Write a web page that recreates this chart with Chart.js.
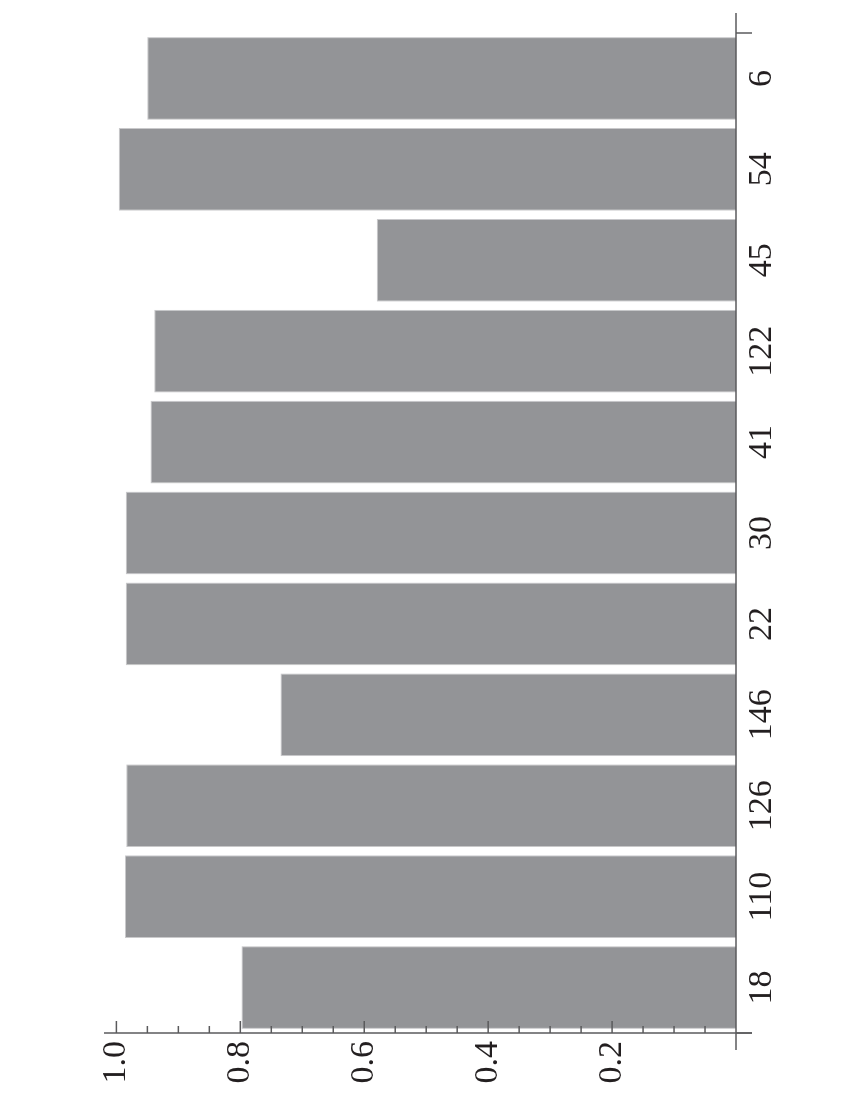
<!DOCTYPE html>
<html>
<head>
<meta charset="utf-8">
<script src="https://cdn.jsdelivr.net/npm/chart.js@4/dist/chart.umd.min.js"></script>
<style>
  html, body { margin: 0; padding: 0; background: #fff; overflow: hidden; }
  /* the chart is a plain column chart, turned a quarter turn to the left */
  #wrap {
    position: absolute; left: 0; top: 0;
    width: 1100px; height: 850px;
    transform-origin: 0 0;
    transform: translate(0, 1100px) rotate(-90deg);
  }
</style>
</head>
<body>
<div id="wrap"><canvas id="chart" width="1100" height="850"></canvas></div>
<script>
const categories = ['18', '110', '126', '146', '22', '30', '41', '122', '45', '54', '6'];
const values = [0.798, 0.986, 0.984, 0.735, 0.985, 0.985, 0.945, 0.939, 0.580, 0.996, 0.950];
const valueTicks = [0.2, 0.4, 0.6, 0.8, 1.0];
const minorStep = 0.05;

const ink = '#231f20';
const axisColor = '#5a5a5c';
const serif = '"Liberation Serif", "Times New Roman", serif';

// axis lines and inward tick marks, like the original
const axesPlugin = {
  id: 'axes',
  afterDraw(chart) {
    const ctx = chart.ctx;
    const y = chart.scales.y;
    const area = chart.chartArea;
    ctx.save();
    ctx.strokeStyle = axisColor;
    ctx.lineWidth = 1.5;

    // value axis
    ctx.beginPath();
    ctx.moveTo(area.left, y.getPixelForValue(y.max));
    ctx.lineTo(area.left, area.bottom + 16);
    ctx.stroke();
    for (let i = 1; i * minorStep <= 1.0001; i++) {
      const v = i * minorStep;
      const py = y.getPixelForValue(v);
      const major = valueTicks.some(t => Math.abs(t - v) < 1e-6);
      ctx.beginPath();
      ctx.moveTo(area.left, py);
      ctx.lineTo(area.left + (major ? 12 : 7), py);
      ctx.stroke();
    }

    // category axis
    ctx.beginPath();
    ctx.moveTo(area.left - 17, area.bottom);
    ctx.lineTo(area.right + 20, area.bottom);
    ctx.stroke();
    [area.left, area.right].forEach(px => {
      ctx.beginPath();
      ctx.moveTo(px, area.bottom);
      ctx.lineTo(px, area.bottom + 16);
      ctx.stroke();
    });
    ctx.restore();
  }
};

new Chart(document.getElementById('chart'), {
  type: 'bar',
  data: {
    labels: categories,
    datasets: [{
      data: values,
      backgroundColor: '#939497',
      borderColor: '#c9c9cb',
      borderWidth: 1,
      barPercentage: 0.91,
      categoryPercentage: 1.0
    }]
  },
  options: {
    responsive: false,
    animation: false,
    layout: { padding: { left: 0, top: 104, right: 33, bottom: 0 } },
    plugins: { legend: { display: false }, tooltip: { enabled: false } },
    scales: {
      x: {
        grid: { display: false },
        border: { display: false },
        ticks: {
          color: ink,
          padding: -2,
          maxRotation: 0,
          font: { family: serif, size: 34 }
        },
        afterFit: s => { s.height = 114; }
      },
      y: {
        min: 0,
        max: 1.02,
        grid: { display: false },
        border: { display: false },
        afterBuildTicks: s => { s.ticks = valueTicks.map(v => ({ value: v })); },
        ticks: {
          color: ink,
          padding: 0,
          callback: v => Number(v).toFixed(1),
          font: { family: serif, size: 34 }
        },
        afterFit: s => { s.width = 67; }
      }
    }
  },
  plugins: [axesPlugin]
});
</script>
</body>
</html>
